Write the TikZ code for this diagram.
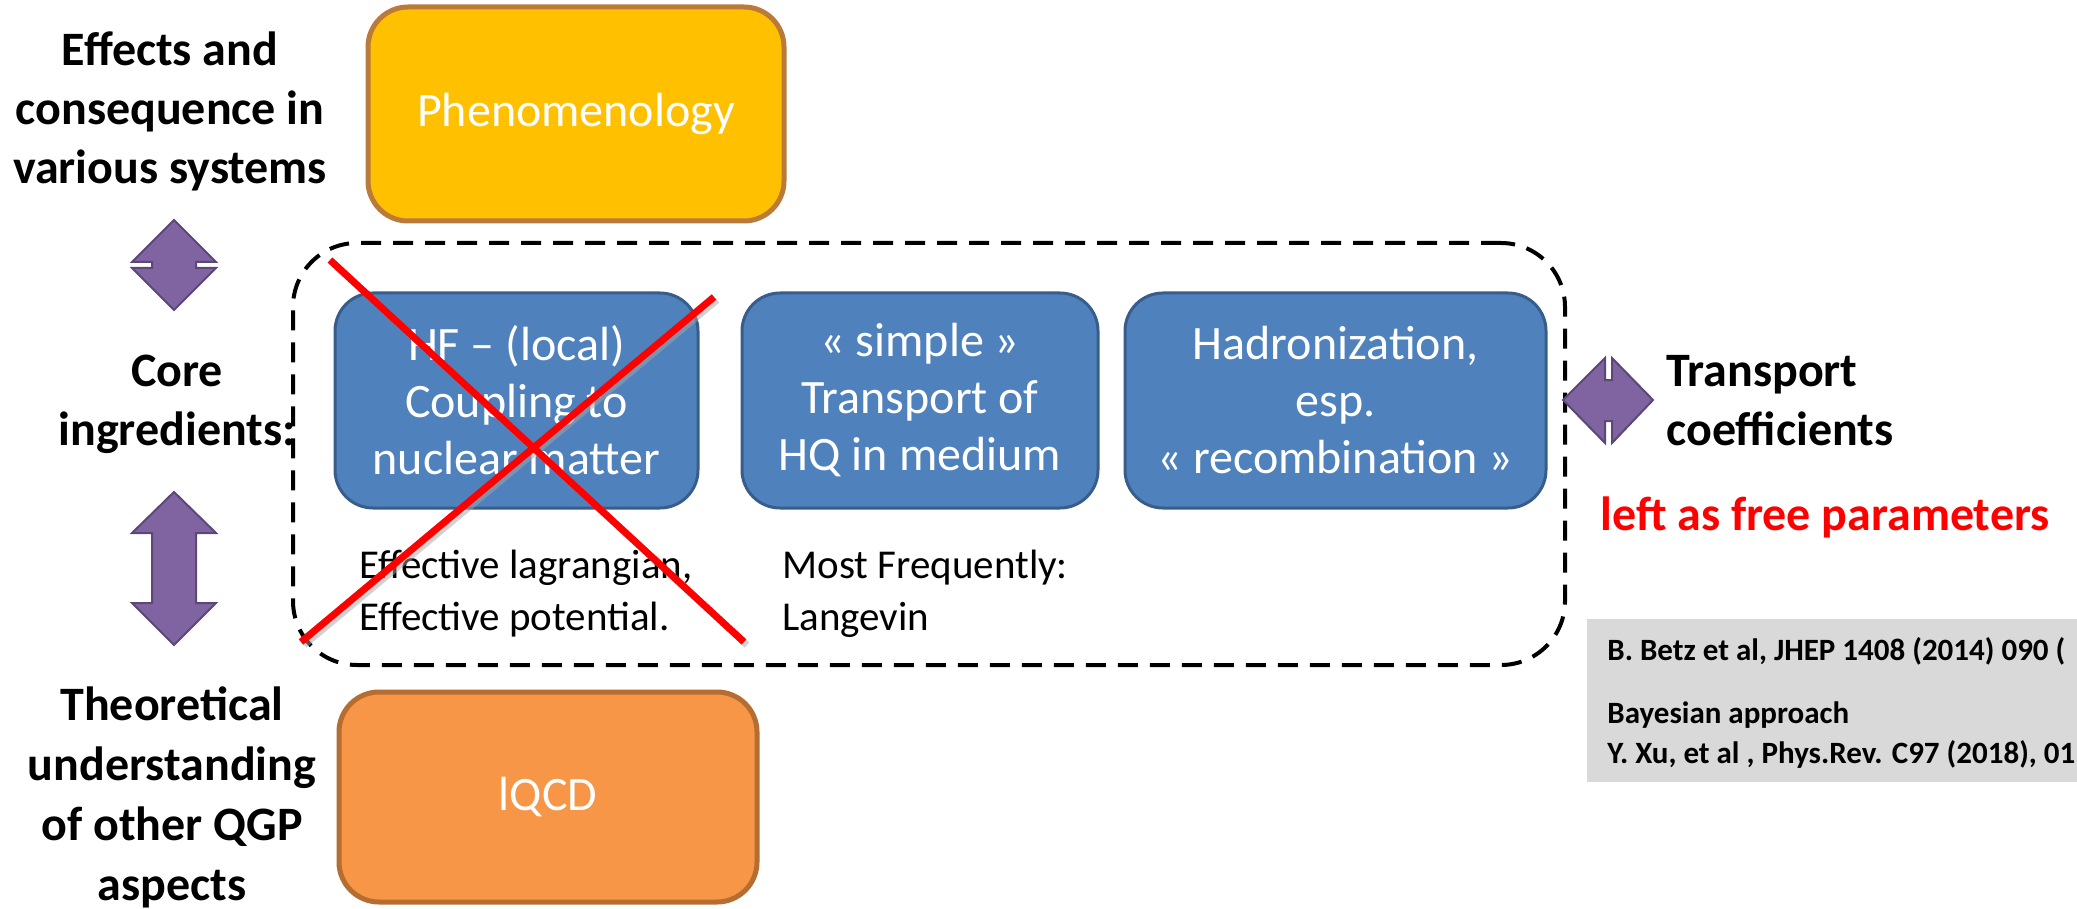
\documentclass[tikz,border=0pt]{standalone}
\usepackage{fontspec}
\setmainfont{Carlito}
\definecolor{phenofill}{HTML}{FFC000}
\definecolor{phenoline}{HTML}{B97A3A}
\definecolor{lqcdfill}{HTML}{F79646}
\definecolor{lqcdline}{HTML}{B66D31}
\definecolor{bluefill}{HTML}{4F81BD}
\definecolor{blueline}{HTML}{385D8A}
\definecolor{purfill}{HTML}{8064A2}
\definecolor{purline}{HTML}{5C4776}
\definecolor{refgray}{HTML}{D9D9D9}
\definecolor{xred}{HTML}{FF0000}
\begin{document}
\begin{tikzpicture}[x=0.5pt,y=-0.5pt,
  lbl/.style={font=\bfseries\fontsize{24}{29.5}\selectfont, align=center, inner sep=0pt},
  bigbox/.style={draw, line width=2.5pt, rounded corners=20pt, inner sep=0pt,
    text=white, font=\fontsize{24}{29}\selectfont},
  bluebox/.style={draw=blueline, fill=bluefill, line width=1.5pt, rounded corners=19pt,
    minimum height=107.5pt, inner sep=0pt, align=center, text=white,
    font=\fontsize{24}{28.5}\selectfont},
  subtxt/.style={anchor=base west, align=left, inner sep=0pt,
    font=\fontsize{20.5}{26}\selectfont},
  purarrow/.style={fill=purfill, draw=purline, line width=1pt, line join=miter},
  crossline/.style={draw=xred, line width=3.5pt},
  crossshadow/.style={draw=black!35, line width=3.5pt, opacity=0.5}
]
\useasboundingbox (0,0) rectangle (2077,909);

% dashed frame around the core ingredients
\node[draw, dashed, dash pattern=on 10pt off 6pt, line width=2pt, rounded corners=32pt,
  minimum width=636pt, minimum height=211pt, inner sep=0pt] (core) at (929,454) {};

% main boxes
\node[bigbox, draw=phenoline, fill=phenofill, minimum width=208pt, minimum height=107pt]
  (pheno) at (576,114) {Phenomenology};
\node[bigbox, draw=lqcdline, fill=lqcdfill, minimum width=209pt, minimum height=105pt]
  (lqcd) at (548,797) {lQCD};

\node[bluebox, minimum width=181.5pt] (hf) at (516.5,400.5)
  {HF -- (local)\\Coupling to\\nuclear matter};
\node[bluebox, minimum width=178pt] (transp) at (920,400.5)
  {« simple »\\Transport of\\HQ in medium};
\node[bluebox, minimum width=210.5pt] (hadro) at (1335.5,400.5)
  {Hadronization,\\esp.\\« recombination »};

% texts under the boxes (anchor = baseline of last line)
\node[subtxt] (efflag) at (359,630) {Effective lagrangian,\\Effective potential.};
\node[subtxt] (mostfr) at (782,630) {Most Frequently:\\Langevin};

% left labels
\node[lbl] (effects) at (170,111) {Effects and\\consequence in\\various systems};
\node[lbl] (coreing) at (177,404) {Core\\ingredients:};
\node[lbl, font=\bfseries\fontsize{24}{30}\selectfont] (theo) at (172,797)
  {Theoretical\\understanding\\of other QGP\\aspects};

% right labels
\node[lbl, align=left, anchor=base west] (tcoef) at (1666,445) {Transport\\coefficients};
\node[anchor=base west, inner sep=0pt, text=xred, font=\bfseries\fontsize{24}{29}\selectfont]
  (free) at (1600,530) {left as free parameters};

% references box
\begin{scope}
\clip (0,0) rectangle (2077,909);
\fill[refgray] (1587,619) rectangle (2090,782);
\node[anchor=base west, align=left, inner sep=0pt, font=\bfseries\fontsize{15.5}{20}\selectfont]
  (refs) at (1607,763) {B. Betz et al, JHEP 1408 (2014) 090 (\\[11.5pt]Bayesian approach\\Y. Xu, et al , Phys.Rev. C97 (2018), 01};
\end{scope}

% purple double arrows
\draw[purarrow] (174,220) -- (216,262) -- (196,262) -- (196,268) -- (216,268) -- (174,310)
  -- (132,268) -- (152,268) -- (152,262) -- (132,262) -- cycle;
\draw[purarrow] (174,492) -- (216,533) -- (196,533) -- (196,603) -- (216,603) -- (174,645)
  -- (132,603) -- (152,603) -- (152,533) -- (132,533) -- cycle;
\draw[purarrow] (1563,400) -- (1605,358) -- (1605,380) -- (1612,380) -- (1612,358) -- (1653,400)
  -- (1612,443) -- (1612,421) -- (1605,421) -- (1605,443) -- cycle;

% red cross
\coordinate (xa1) at (330,260);
\coordinate (xa2) at (744,642);
\coordinate (xb1) at (714,297);
\coordinate (xb2) at (301,642);
\draw[crossshadow] ([shift={(3,3)}]xa1) -- ([shift={(3,3)}]xa2);
\draw[crossshadow] ([shift={(3,3)}]xb1) -- ([shift={(3,3)}]xb2);
\draw[crossline] (xa1) -- (xa2);
\draw[crossline] (xb1) -- (xb2);
\end{tikzpicture}
\end{document}
